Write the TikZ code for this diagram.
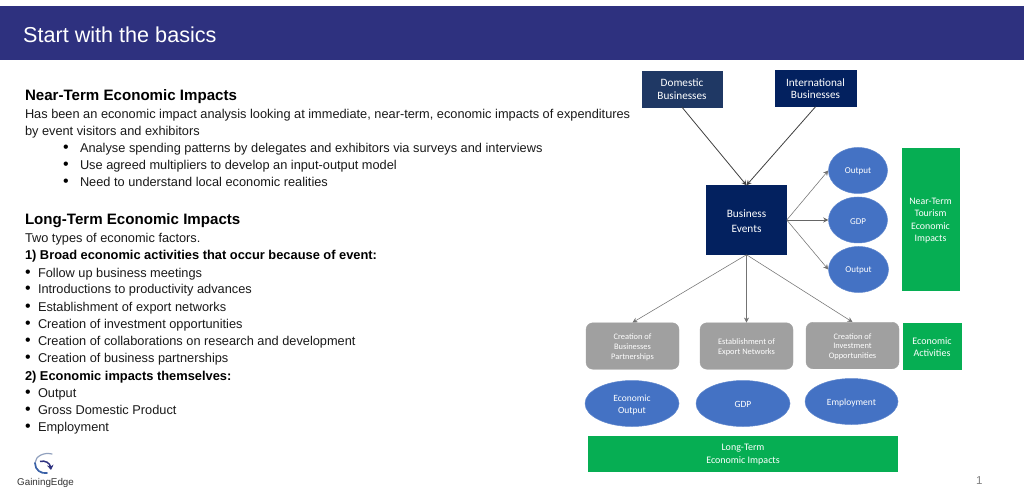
\documentclass[tikz,border=0pt]{standalone}
\usepackage{fontspec}
\setmainfont{Liberation Sans}
\newfontfamily\carl{Carlito}
\usetikzlibrary{arrows.meta,shapes.geometric}
\definecolor{band}{HTML}{2E317F}
\definecolor{navy}{HTML}{03215F}
\definecolor{navyb}{HTML}{1F3864}
\definecolor{oval}{HTML}{4472C4}
\definecolor{grn}{HTML}{06AE53}
\definecolor{gry}{HTML}{A0A0A0}
\definecolor{txt}{HTML}{1A1A1A}
\newcommand\dn[1]{\raisebox{-1.2pt}[\height][\depth]{#1}}
\tikzset{
 x=1pt,y=-1pt,
 body/.style={anchor=base west,inner sep=0pt,outer sep=0pt,font=\fontsize{12.78}{14}\selectfont,text=txt},
 head/.style={anchor=base west,inner sep=0pt,outer sep=0pt,font=\fontsize{15.1}{16}\selectfont\bfseries,text=black},
 bold/.style={body,font=\fontsize{12.85}{14}\selectfont\bfseries,text=black},
 dot/.style={anchor=base west,inner sep=0pt,outer sep=0pt,font=\fontsize{16}{14}\selectfont,text=black},
 bx/.style={draw=#1,fill=#1,rectangle,inner sep=0pt,align=center,text=white,line width=.5pt},
 dia/.style={font=\carl\fontsize{#1}{\dimexpr #1pt*125/100\relax}\selectfont},
 tight/.style={font=\carl\fontsize{#1}{12.5}\selectfont},
 grtext/.style={font=\carl\fontsize{#1}{9.6}\selectfont},
 ell/.style={ellipse,fill=oval,draw=oval!85!white,inner sep=0pt,align=center,text=white,line width=.5pt},
 gbox/.style={rectangle,rounded corners=7pt,fill=gry,draw=gry,inner sep=0pt,align=center,text=white,minimum width=93pt,minimum height=46.5pt},
 darkline/.style={draw=black!75,line width=.8pt,-{Stealth[length=5pt,width=5pt]}},
 thinline/.style={draw=black!55,line width=.55pt,-{Stealth[length=5pt,width=5pt]}}
}
\begin{document}
\begin{tikzpicture}
\useasboundingbox (0,0) rectangle (1024,502);
\fill[white] (0,0) rectangle (1024,502);
\fill[band] (0,6.5) rectangle (1024,60);
\node[anchor=base west,inner sep=0pt,text=white,font=\fontsize{21.6}{24}\selectfont] (title) at (23,42.5) {Start with the basics};
% left text
\node[head] (h1) at (25,100.5) {Near-Term Economic Impacts};
\node[body] (t1) at (25,118.5) {Has been an economic impact analysis looking at immediate, near-term, economic impacts of expenditures};
\node[body] (t2) at (25,135.5) {by event visitors and exhibitors};
\node[dot] (b1) at (63,152.5) {•};
\node[body] (t3) at (80,152.5) {Analyse spending patterns by delegates and exhibitors via surveys and interviews};
\node[dot] (b2) at (63,169.5) {•};
\node[body] (t4) at (80,169.5) {Use agreed multipliers to develop an input-output model};
\node[dot] (b3) at (63,187) {•};
\node[body] (t5) at (80,187) {Need to understand local economic realities};
\node[head] (h2) at (25,225) {Long-Term Economic Impacts};
\node[body] (t6) at (25,243) {Two types of economic factors.};
\node[bold] (t7) at (25,260) {1) Broad economic activities that occur because of event:};
\foreach \n/\y/\s in {a/277/Follow up business meetings,b/294/Introductions to productivity advances,c/311/Establishment of export networks,d/328.5/Creation of investment opportunities,e/345.5/Creation of collaborations on research and development,f/362.5/Creation of business partnerships}{
 \node[dot] (d\n) at (25,\y) {•};
 \node[body] (l\n) at (38,\y) {\s};
}
\node[bold] (t8) at (25,380) {2) Economic impacts themselves:};
\foreach \n/\y/\s in {g/397.5/Output,h/414.5/Gross Domestic Product,i/431.5/Employment}{
 \node[dot] (d\n) at (25,\y) {•};
 \node[body] (l\n) at (38,\y) {\s};
}
% diagram nodes
\node[bx=navyb,minimum width=80pt,minimum height=36pt,tight=11.2] (dom) at (682,89) {Domestic\\Businesses};
\node[bx=navy,minimum width=81pt,minimum height=36pt,tight=11.2] (int) at (815.5,88.5) {International\\Businesses};
\node[bx=navy,minimum width=80pt,minimum height=69pt,dia=11.3] (be) at (746.5,220) {\dn{Business}\\\dn{Events}};
\node[ell,minimum width=59pt,minimum height=46pt,dia=9] (o1) at (858,170.5) {\dn{Output}};
\node[ell,minimum width=59pt,minimum height=46pt,dia=9] (o2) at (858,220) {\dn{GDP}};
\node[ell,minimum width=60pt,minimum height=46pt,dia=9] (o3) at (858.5,269.5) {\dn{Output}};
\node[bx=grn,minimum width=57.5pt,minimum height=142pt,dia=9.9] (near) at (930.5,219.5) {\dn{Near-Term}\\\dn{Tourism}\\\dn{Economic}\\\dn{Impacts}};
\node[gbox,grtext=8.4] (g1) at (632.5,346) {\dn{Creation of}\\\dn{Businesses}\\\dn{Partnerships}};
\node[gbox,grtext=8.4] (g2) at (746.5,346) {\dn{Establishment of}\\\dn{Export Networks}};
\node[gbox,grtext=8.4] (g3) at (852.5,345.5) {\dn{Creation of}\\\dn{Investment}\\\dn{Opportunities}};
\node[bx=grn,minimum width=57.5pt,minimum height=46.5pt,dia=10] (act) at (932,346) {\dn{Economic}\\\dn{Activities}};
\node[ell,minimum width=94pt,minimum height=46pt,dia=9.5] (e1) at (632,403.5) {\dn{Economic}\\\dn{Output}};
\node[ell,minimum width=94pt,minimum height=46pt,dia=9.5] (e2) at (743,403.5) {\dn{GDP}};
\node[ell,minimum width=93pt,minimum height=46pt,dia=9.5] (e3) at (851.5,401.5) {\dn{Employment}};
\node[bx=grn,minimum width=309pt,minimum height=35pt,dia=10] (long) at (743,453.5) {\dn{Long-Term}\\\dn{Economic Impacts}};
% connectors
\draw[darkline] (dom.south) -- (be.north);
\draw[darkline] (int.south) -- (be.north);
\draw[thinline] (be.east) -- (o1.west);
\draw[darkline,draw=black!60] (be.east) -- (o2.west);
\draw[thinline] (be.east) -- (o3.west);
\draw[thinline] (be.south) -- (g1.north);
\draw[thinline] (be.south) -- (g2.north);
\draw[thinline] (be.south) -- (g3.north);
% logo
\draw[draw=oval!50!gray!70,line width=1.2pt,line cap=round] (52,454) .. controls (44,452) and (35.5,456) .. (35,463);
\draw[draw=oval!85!black,line width=1.7pt,line cap=round] (35,463) .. controls (35,470) and (41,474) .. (47,473);
\draw[draw=band,line width=1.5pt,-{Stealth[length=5pt,width=6.5pt]}] (40,461.5) .. controls (45,460) and (50,463) .. (51,470);
\node[anchor=base west,inner sep=0pt,text=black!80,font=\fontsize{9.8}{12}\selectfont] (logo) at (17,485.5) {GainingEdge};
\node[anchor=base west,inner sep=0pt,text=black!50,font=\fontsize{11.5}{12}\selectfont] (page) at (976,484) {1};
\end{tikzpicture}
\end{document}
